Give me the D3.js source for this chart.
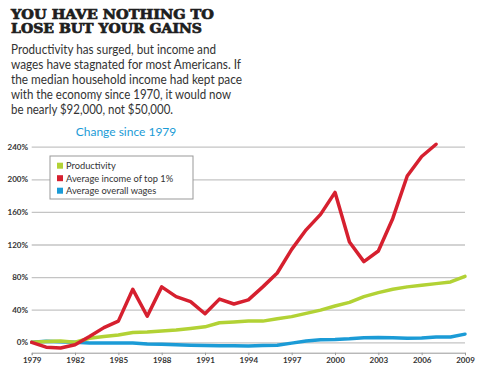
<html>
<head>
<meta charset="utf-8" />
<title>You have nothing to lose but your gains</title>
<script src="https://cdn.jsdelivr.net/npm/d3@7"></script>
<style>
body { margin: 0; background: #fff; }
.grid line { stroke: #c4c4c4; stroke-width: 1.3; }
.grid .domain { display: none; }
.ylab text, .xax text { font-family: Lato, sans-serif; font-weight: bold; font-size: 8px; fill: #333; }
</style>
</head>
<body>
<script>
// data
var years = d3.range(1979, 2010);
var productivity = [0, 1, 1.5, 0, 5, 7, 9, 12, 12.5, 14, 15, 17, 19, 24, 25, 26, 26, 29, 31.5, 35.5, 39.5, 44.5, 49, 56, 61, 65, 68, 70, 72, 74, 81];
var topOne = [0, -6, -7, -3, 7, 18, 26, 65, 32, 68, 56, 50, 35, 53, 47, 52, 68, 85, 114, 138, 157, 184, 123, 99, 112, 152, 204, 228, 243];
var wages = [0, 1.3, 0.8, 0, -1, -1, -1, -1, -2, -2.5, -3, -3.5, -4, -4.3, -4.3, -4.5, -4, -3.5, -1, 1.6, 3.2, 3.5, 4.3, 5.7, 6, 5.7, 5, 5.3, 6.5, 6.5, 10];
var yTicks = [0, 40, 80, 120, 160, 200, 240];
var xTicks = [1979, 1982, 1985, 1988, 1991, 1994, 1997, 2000, 2003, 2006, 2009];
var seriesNames = ["Productivity", "Average income of top 1%", "Average overall wages"];
var seriesColors = ["#b2d235", "#d6202f", "#1b9bd6"];

var titleLines = ["YOU HAVE NOTHING TO", "LOSE BUT YOUR GAINS"];
var introLines = [
  "Productivity has surged, but income and",
  "wages have stagnated for most Americans. If",
  "the median household income had kept pace",
  "with the economy since 1970, it would now",
  "be nearly $92,000, not $50,000."
];
var introWidths = [205, 230, 231, 220, 162];

var W = 480, H = 374;
var svg = d3.select("body").append("svg").attr("width", W).attr("height", H);

// headline (heavy slab look: bold serif plus a thin stroke)
svg.selectAll(".title").data(titleLines).enter().append("text")
  .attr("x", 11).attr("y", (d, i) => 18.6 + i * 14.7)
  .attr("font-family", "'DejaVu Serif', serif").attr("font-weight", "bold")
  .attr("font-size", "12.8px").attr("fill", "#1e1e1e")
  .attr("stroke", "#1e1e1e").attr("stroke-width", 0.7)
  .attr("textLength", (d, i) => i == 0 ? 203 : 191).attr("lengthAdjust", "spacingAndGlyphs")
  .text(d => d);

svg.selectAll(".intro").data(introLines).enter().append("text")
  .attr("x", 11).attr("y", (d, i) => 54 + i * 15)
  .attr("font-family", "Lato, sans-serif").attr("font-size", "13px").attr("fill", "#333")
  .attr("textLength", (d, i) => introWidths[i]).attr("lengthAdjust", "spacingAndGlyphs")
  .text(d => d);

svg.append("text").attr("x", 126).attr("y", 136).attr("text-anchor", "middle")
  .attr("font-family", "Lato, sans-serif").attr("font-size", "12px").attr("fill", "#1b9bd6")
  .text("Change since 1979");

var x = d3.scaleLinear().domain([1979, 2009]).range([31.7, 465]);
var y = d3.scaleLinear().domain([0, 240]).range([342.3, 146.7]);

// gridlines
svg.append("g").attr("class", "grid")
  .attr("transform", "translate(" + x(2009) + ",0)")
  .call(d3.axisLeft(y).tickValues(yTicks).tickSize(x(2009) - x(1979)).tickFormat(""));

svg.append("g").attr("class", "ylab").selectAll("text").data(yTicks).enter().append("text")
  .attr("x", 28).attr("y", d => y(d) + 3).attr("text-anchor", "end")
  .text(d => d + "%");

// bottom axis
var xAxis = svg.append("g").attr("class", "xax")
  .attr("transform", "translate(0,352.7)")
  .call(d3.axisBottom(x).tickValues(xTicks).tickFormat(d3.format("d")).tickSize(2.5).tickPadding(2));
xAxis.select(".domain").attr("stroke", "#999").attr("stroke-width", 1);
xAxis.selectAll(".tick line").attr("stroke", "#999");

var line = d3.line().x((d, i) => x(years[i])).y(d => y(d));
var all = [productivity, topOne, wages];
// wages first so the others sit on top like the original
[2, 0, 1].forEach(function(k) {
  svg.append("path").datum(all[k])
    .attr("fill", "none").attr("stroke", seriesColors[k])
    .attr("stroke-width", 3.5).attr("stroke-linejoin", "round").attr("stroke-linecap", "round")
    .attr("d", line);
});

// legend
var lg = svg.append("g").attr("transform", "translate(50,156)");
lg.append("rect").attr("width", 143).attr("height", 43).attr("fill", "#fff")
  .attr("stroke", "#999").attr("stroke-width", 1);
var items = lg.selectAll(".it").data(seriesNames).enter().append("g")
  .attr("transform", (d, i) => "translate(7," + (9.7 + i * 12.5) + ")");
items.append("rect").attr("x", 0).attr("y", -3).attr("width", 6).attr("height", 6)
  .attr("fill", (d, i) => seriesColors[i]);
items.append("text").attr("x", 9).attr("y", 3.3)
  .attr("font-family", "Lato, sans-serif").attr("font-size", "9.3px").attr("fill", "#333")
  .text(d => d);
</script>
</body>
</html>
